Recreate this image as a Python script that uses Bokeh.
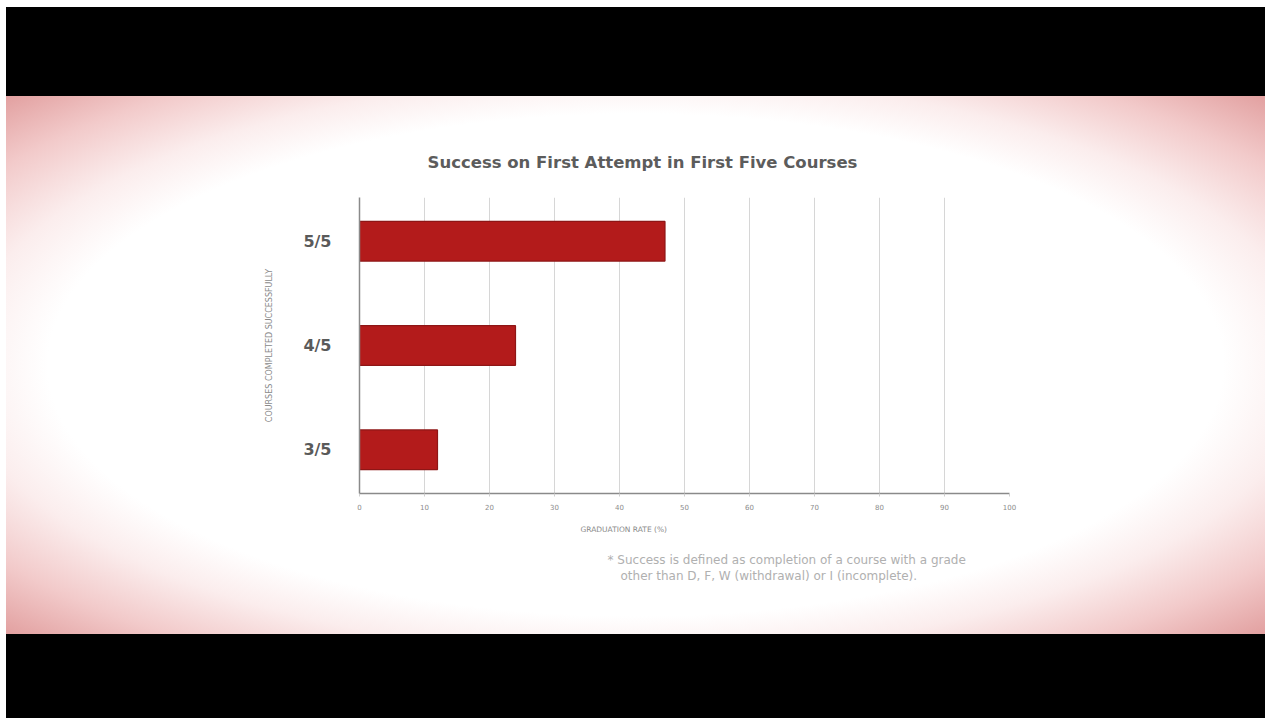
from bokeh.plotting import figure
from bokeh.models import FactorRange, Range1d, FixedTicker, Div, Title
from bokeh.layouts import column
from bokeh.embed import file_html
from bokeh.resources import INLINE

# ---- data ----
categories = ["3/5", "4/5", "5/5"]
graduation_rate = [12, 24, 47]
x_ticks = [0, 10, 20, 30, 40, 50, 60, 70, 80, 90, 100]
title_text = "Success on First Attempt in First Five Courses"
x_label = "GRADUATION RATE (%)"
y_label = "COURSES COMPLETED SUCCESSFULLY"
note_line1 = "* Success is defined as completion of a course with a grade"
note_line2 = "other than D, F, W (withdrawal) or I (incomplete)."

FONT = "DejaVu Sans"
W = 1259

top_bar = Div(text="", width=W, height=89, margin=(7, 0, 0, 6),
              styles={"background": "#000000"})
bottom_bar = Div(text="", width=W, height=84, margin=(0, 0, 0, 6),
                 styles={"background": "#000000"})

p = figure(
    width=W, height=538, margin=(0, 0, 0, 6),
    y_range=FactorRange(factors=categories, range_padding=-0.08, range_padding_units="absolute"),
    x_range=Range1d(0, 100),
    output_backend="svg", toolbar_location=None,
    min_border_left=353, min_border_right=256, min_border_top=101, min_border_bottom=141,
    styles={"background": "radial-gradient(ellipse at center, #ffffff 0%, #ffffff 66%, #fbeded 76%, #f2caca 88%, #e2a0a0 100%)"},
)
p.background_fill_alpha = 0
p.border_fill_alpha = 0
p.outline_line_color = None

# title
p.title = Title(text=title_text, align="left", offset=68, standoff=51,
                text_font=FONT, text_font_size="16.5px", text_font_style="bold",
                text_color="#5c5c5c")

p.hbar(y=categories, right=graduation_rate, left=0, height=0.38,
       fill_color="#b31b1b", line_color="#8e1616", line_width=1.2)

# grid
p.ygrid.grid_line_color = None
p.xgrid.ticker = FixedTicker(ticks=x_ticks)
p.xgrid.grid_line_color = "#d6d6d6"
p.xgrid.grid_line_width = 1

# x axis
p.xaxis.ticker = FixedTicker(ticks=x_ticks)
p.xaxis.axis_line_color = "#8a8a8a"
p.xaxis.axis_line_width = 1.5
p.xaxis.major_tick_line_color = "#cfcfcf"
p.xaxis.major_tick_in = 0
p.xaxis.major_tick_out = 3
p.xaxis.minor_tick_line_color = None
p.xaxis.major_label_text_font = FONT
p.xaxis.major_label_text_font_size = "7px"
p.xaxis.major_label_text_color = "#8c8c8c"
p.xaxis.major_label_standoff = 7

# y axis
p.yaxis.axis_line_color = "#8a8a8a"
p.yaxis.axis_line_width = 1.5
p.yaxis.major_tick_line_color = None
p.yaxis.minor_tick_line_color = None
p.yaxis.major_label_text_font = FONT
p.yaxis.major_label_text_font_size = "16px"
p.yaxis.major_label_text_font_style = "bold"
p.yaxis.major_label_text_color = "#5a5a5a"
p.yaxis.major_label_standoff = 22
p.yaxis.axis_label = y_label
p.yaxis.axis_label_text_font = FONT
p.yaxis.axis_label_text_font_size = "8px"
p.yaxis.axis_label_text_font_style = "normal"
p.yaxis.axis_label_text_color = "#8a8a8a"
p.yaxis.axis_label_standoff = 26

# x axis label and footnote as titles below the axis
p.add_layout(Title(text=x_label, align="left", offset=221, standoff=20,
                   text_font=FONT, text_font_size="7.5px", text_font_style="normal",
                   text_color="#8a8a8a"), "below")
p.add_layout(Title(text=note_line1, align="left", offset=248, standoff=14,
                   text_font=FONT, text_font_size="12px", text_font_style="normal",
                   text_color="#b0b0b0"), "below")
p.add_layout(Title(text=note_line2, align="left", offset=261, standoff=-14,
                   text_font=FONT, text_font_size="12px", text_font_style="normal",
                   text_color="#b0b0b0"), "below")

layout = column(top_bar, p, bottom_bar, spacing=0)

open("out.html", "w").write(file_html(layout, INLINE))
